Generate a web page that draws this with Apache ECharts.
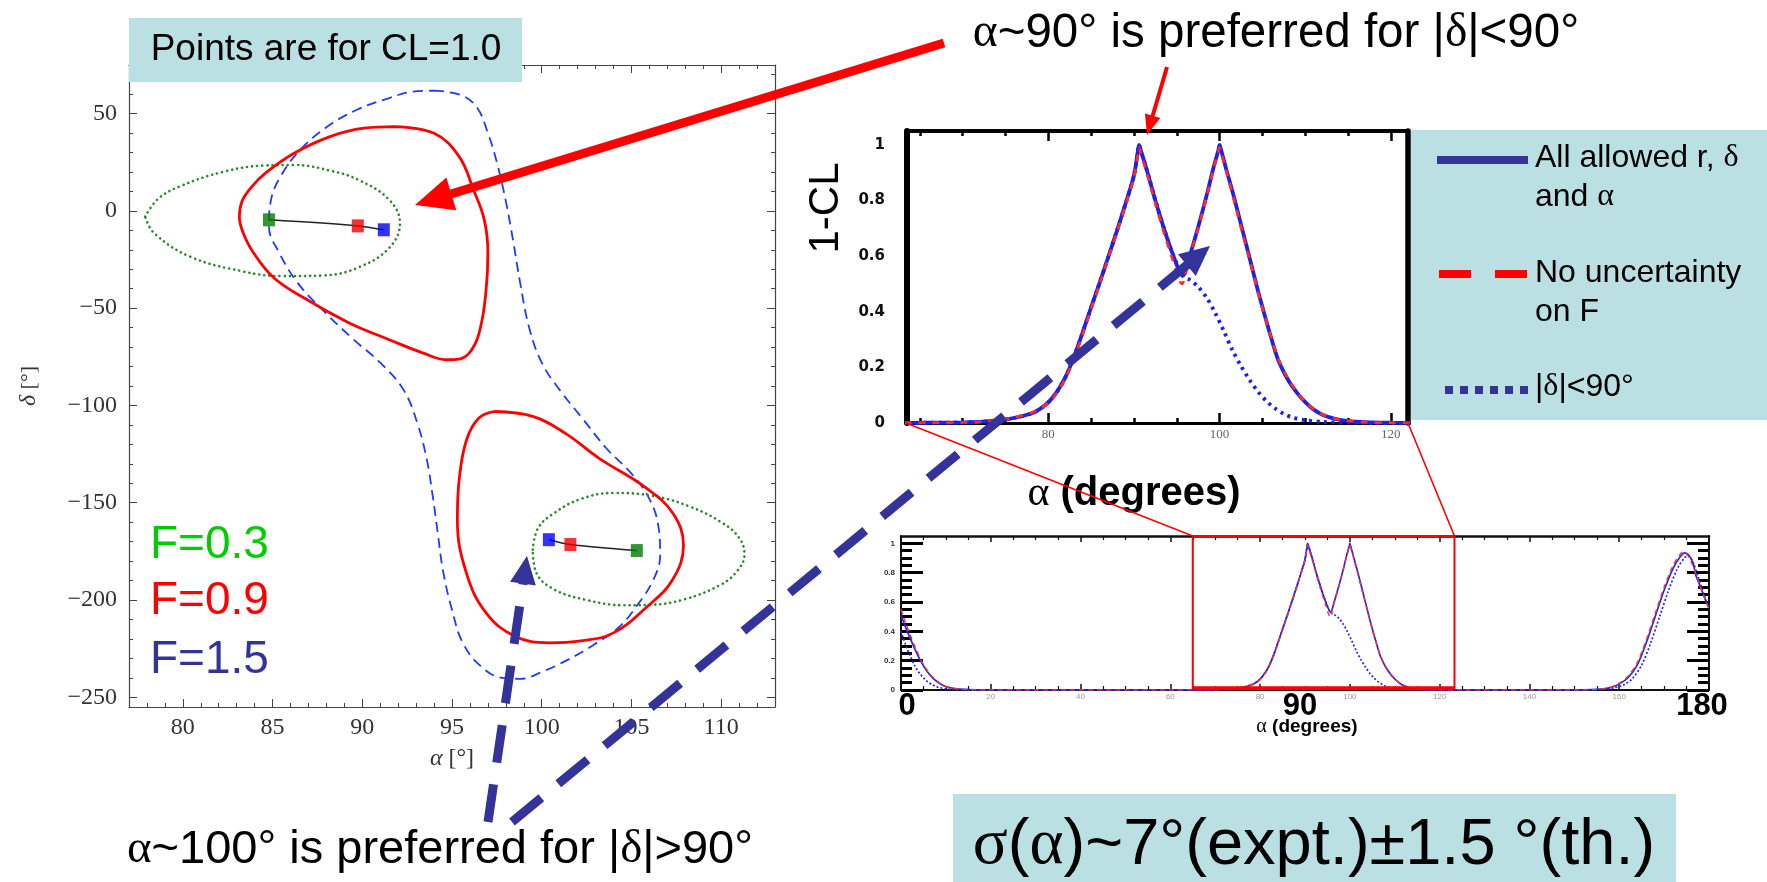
<!DOCTYPE html>
<html><head><meta charset="utf-8">
<script src="https://cdn.jsdelivr.net/npm/echarts@6/dist/echarts.min.js"></script>
<style>html,body{margin:0;padding:0;background:#fff}#c{width:1767px;height:882px}</style>
</head><body><div id="c"></div>
<script>
// ---------------- DATA ----------------
// Left panel: contours in (alpha [deg], delta [deg])
const RED_UPPER = [[91.8,43.3],[94.0,39.9],[95.4,27.9],[96.2,10.8],[96.8,-4.6],[97.0,-21.7],[96.9,-40.6],[96.6,-59.4],[96.1,-71.4],[95.4,-76.2],[94.7,-76.5],[93.4,-73.1],[91.5,-66.2],[89.3,-57.7],[87.1,-46.6],[85.1,-34.6],[83.9,-21],[83.35,-11],[83.15,-3],[83.3,5],[83.8,12],[84.6,19.4],[86.2,29.6],[88.2,38.2],[90.1,42.5],[91.8,43.3]];
const RED_LOWER = [[97.4,-103.1],[99.5,-105.6],[101.3,-114.2],[103.2,-127.2],[105.7,-141.6],[107.3,-155.3],[107.9,-172],[107.3,-189.5],[105.9,-203.2],[104.0,-216.9],[102.2,-221],[100.4,-222],[98.5,-218.6],[96.9,-206.6],[95.8,-186.1],[95.3,-158.7],[95.4,-138.1],[95.8,-118],[96.5,-106.5],[97.4,-103.1]];
const BLUE_CONTOUR = [[94.0,61.8],[95.5,59.5],[96.4,53],[97.0,40],[97.5,25],[98.0,5],[98.4,-15],[98.8,-37],[99.3,-60],[100.0,-78],[101.0,-92],[102.3,-107],[103.6,-122],[105.0,-135],[106.0,-148],[106.5,-162],[106.6,-177],[106.2,-190],[105.3,-203],[104.3,-214],[102.9,-223],[101.5,-230.5],[100.0,-237],[98.8,-240.5],[97.8,-240],[96.6,-234],[95.6,-222],[95.0,-205],[94.5,-185],[94.2,-165],[93.9,-145],[93.6,-128],[93.1,-110],[92.3,-92],[91.0,-78],[89.5,-66],[87.8,-51],[86.4,-37],[85.4,-22],[84.8,-8],[84.9,5],[85.4,17],[86.5,31],[88.0,43],[89.7,52],[91.5,58],[92.8,61.3],[94.0,61.8]];
const GREEN_UPPER = [[77.9,-2.9],[78.6,6],[79.8,12.5],[82.3,20.2],[84.5,23.3],[86.2,23.6],[88.3,20.5],[89.8,15.9],[91.5,5.7],[92.1,-6.3],[91.5,-19],[89.8,-29],[87.8,-33.2],[85.5,-33.5],[83.3,-31],[80.4,-23.5],[78.4,-11.4],[77.9,-2.9]];
const GREEN_LOWER = [[99.5,-174.1],[99.8,-163],[100.7,-155.3],[102.2,-148],[104.0,-145],[106.2,-146.5],[108.2,-151.8],[110.0,-160],[111.0,-168],[111.3,-176.7],[110.9,-185],[110.0,-192],[107.9,-199.8],[106.0,-202.5],[104.6,-202.7],[102.5,-200],[100.7,-194.6],[99.7,-186.1],[99.5,-174.1]];
// Points for CL = 1.0 (order: F=0.3, F=0.9, F=1.5)
const POINTS_UPPER = [[84.8,-4.6],[89.75,-7.7],[91.2,-9.7]];
const POINTS_LOWER = [[105.3,-174.6],[101.6,-171.5],[100.4,-169]];
const F_LABELS = ['F=0.3','F=0.9','F=1.5'];
const F_COLORS_POINTS = ['#007a00','#ee0000','#0000ff'];
const F_COLORS_TEXT = ['#00cc00','#ff0000','#333399'];

// Right panels: 1-CL vs alpha
const CL_ALL = [[0,0.51],[1,0.43],[2,0.355],[3,0.285],[4,0.22],[5,0.165],[6,0.12],[7,0.085],[8,0.058],[9,0.038],[10,0.024],[12,0.01],[14,0.004],[17,0.001],[20,0],[40,0],[60,0],[66,0.001],[70,0.002],[72,0.004],[74,0.009],[76,0.018],[78,0.034],[79,0.05],[80,0.074],[81,0.112],[82,0.165],[83,0.238],[84,0.325],[85,0.416],[86,0.505],[87,0.597],[88,0.69],[89,0.787],[90,0.89],[90.45,0.975],[90.6,1.0],[90.75,0.985],[91.5,0.91],[92.5,0.80],[93.5,0.70],[94.5,0.61],[95.7,0.53],[96.5,0.6],[97.5,0.705],[98.5,0.82],[99.3,0.92],[99.85,0.98],[100,1.0],[100.15,0.985],[100.8,0.91],[101.7,0.81],[102.7,0.69],[103.7,0.57],[104.7,0.45],[105.8,0.33],[106.8,0.23],[107.9,0.16],[109,0.11],[110,0.075],[111,0.048],[112,0.03],[113.5,0.015],[115,0.007],[117,0.003],[120,0.001],[125,0],[150,0],[154,0.002],[156,0.006],[158,0.016],[160,0.04],[162,0.085],[164,0.17],[166,0.32],[168,0.5],[170,0.68],[172,0.83],[173.5,0.905],[174.6,0.935],[175.5,0.92],[176.5,0.86],[177,0.79],[178,0.71],[179,0.63],[180,0.56]];
const CL_NO_UNC = [[0,0.55],[1,0.46],[2,0.38],[3,0.305],[4,0.235],[5,0.175],[6,0.127],[7,0.09],[8,0.061],[9,0.04],[10,0.025],[12,0.01],[14,0.004],[17,0.001],[20,0],[60,0],[66,0.001],[70,0.002],[72,0.004],[74,0.009],[76,0.02],[78,0.036],[79,0.051],[80,0.072],[81,0.108],[82,0.16],[83,0.232],[84,0.318],[85,0.41],[86,0.5],[87,0.592],[88,0.685],[89,0.782],[90,0.884],[90.45,0.965],[90.6,0.99],[90.75,0.975],[91.5,0.9],[92.5,0.79],[93.5,0.685],[94.5,0.59],[95.6,0.5],[96.4,0.585],[97.5,0.7],[98.5,0.815],[99.3,0.915],[99.85,0.975],[100,0.99],[100.15,0.975],[100.8,0.905],[101.7,0.8],[102.7,0.68],[103.7,0.565],[104.7,0.445],[105.8,0.33],[106.8,0.235],[107.9,0.165],[109,0.112],[110,0.076],[111,0.05],[112,0.031],[113.5,0.016],[115,0.008],[117,0.003],[120,0.001],[125,0],[150,0],[154,0.002],[156,0.007],[158,0.018],[160,0.045],[162,0.095],[164,0.185],[166,0.34],[168,0.52],[170,0.7],[172,0.85],[173.3,0.915],[174.2,0.94],[175.2,0.92],[176.5,0.84],[178,0.71],[179,0.63],[180,0.55]];
const CL_DELTA90 = [[0,0.40],[1,0.31],[2,0.235],[3,0.17],[4,0.12],[5,0.083],[6,0.055],[7,0.035],[8,0.021],[10,0.008],[12,0.002],[15,0],[60,0],[66,0.001],[70,0.002],[72,0.004],[74,0.009],[76,0.018],[78,0.034],[79,0.05],[80,0.074],[81,0.112],[82,0.165],[83,0.238],[84,0.325],[85,0.416],[86,0.505],[87,0.597],[88,0.69],[89,0.787],[90,0.89],[90.45,0.975],[90.6,1.0],[90.75,0.985],[91.5,0.91],[92.5,0.80],[93.5,0.70],[94.5,0.61],[95.7,0.53],[96.5,0.515],[97.5,0.49],[98.5,0.45],[99.5,0.395],[100.5,0.33],[101.5,0.262],[102.5,0.205],[103.5,0.155],[104.5,0.112],[105.5,0.078],[106.5,0.052],[107.5,0.033],[108.5,0.02],[110,0.01],[112,0.004],[115,0.001],[118,0],[150,0],[155,0.002],[157,0.006],[159,0.015],[161,0.035],[163,0.08],[165,0.17],[167,0.32],[169,0.5],[171,0.68],[173,0.83],[174.5,0.9],[175.3,0.915],[176.3,0.88],[177.5,0.78],[179,0.64],[180,0.56]];

// Axis ranges and ticks
const L_X_RANGE = [77, 113], L_Y_RANGE = [-255, 75];
const L_X_MAJOR = [80,85,90,95,100,105,110];
const L_X_MINOR = [78,79,81,82,83,84,86,87,88,89,91,92,93,94,96,97,98,99,101,102,103,104,106,107,108,109,111,112];
const L_Y_MAJOR = [-250,-200,-150,-100,-50,0,50];
const L_Y_MINOR = [-240,-230,-220,-210,-190,-180,-170,-160,-140,-130,-120,-110,-90,-80,-70,-60,-40,-30,-20,-10,10,20,30,40,60,70];
const U_X_RANGE = [63.5, 122], U_Y_RANGE = [0, 1.05];
const U_X_MAJOR = [80,100,120];
const U_X_MINOR = [65,70,75,85,90,95,105,110,115];
const U_Y_LABELS = [0,0.2,0.4,0.6,0.8,1];
const B_X_RANGE = [0, 180], B_Y_RANGE = [0, 1.05];
const B_Y_MAJOR = [0,0.2,0.4,0.6,0.8,1];
const B_Y_MINOR = [0.05,0.1,0.15,0.25,0.3,0.35,0.45,0.5,0.55,0.65,0.7,0.75,0.85,0.9,0.95];
const ZOOM_ALPHA = [65, 123.3], ZOOM_CL = [0.012, 1.05];

// ---------------- CHART ----------------
const SANS = "'Liberation Sans', Arial, sans-serif";
const SERIF = "'Liberation Serif', 'Times New Roman', serif";
const chart = echarts.init(document.getElementById('c'), null, {renderer:'canvas', width:1767, height:882});

function axis(gridIndex, position, range, cfg) {
  cfg = cfg || {};
  const a = {
    type:'value', gridIndex, position, min:range[0], max:range[1],
    axisLine:{show:!!cfg.line, onZero:false, lineStyle:cfg.line || {}},
    axisTick: cfg.ticks ? Object.assign({show:true, inside:true}, cfg.ticks) : {show:false},
    minorTick: cfg.minor ? Object.assign({show:true}, cfg.minor) : {show:false},
    axisLabel: cfg.labels ? Object.assign({show:true}, cfg.labels) : {show:false},
    splitLine:{show:false}, minorSplitLine:{show:false}, axisPointer:{show:false}
  };
  if (cfg.interval) a.interval = cfg.interval;
  if (cfg.name) { a.name = cfg.name; a.nameLocation = 'middle'; a.nameGap = cfg.nameGap; a.nameTextStyle = cfg.nameTextStyle; }
  return a;
}
const minus = v => String(v).replace('-', '\u2212');
const LFRAME = {color:'#444', width:1.2};
const LTICK = {color:'#444', width:1};
const nameRich = {fontFamily:SERIF, fontSize:24, color:'#333', rich:{i:{fontFamily:SERIF, fontStyle:'italic', fontSize:24, color:'#333'}}};

const xAxis = [
  // left panel
  axis(0,'bottom',L_X_RANGE,{line:LFRAME, ticks:{customValues:L_X_MAJOR, length:8, lineStyle:LTICK},
    labels:{customValues:L_X_MAJOR, fontFamily:SERIF, fontSize:24, color:'#333', margin:9},
    name:'{i|α} [°]', nameGap:40, nameTextStyle:nameRich}),
  axis(0,'bottom',L_X_RANGE,{ticks:{customValues:L_X_MINOR, length:4, lineStyle:LTICK}}),
  axis(0,'top',L_X_RANGE,{line:LFRAME, ticks:{customValues:L_X_MAJOR, length:8, lineStyle:LTICK}}),
  axis(0,'top',L_X_RANGE,{ticks:{customValues:L_X_MINOR, length:4, lineStyle:LTICK}}),
  // upper right panel
  axis(1,'bottom',U_X_RANGE,{line:{color:'#000', width:3}, ticks:{customValues:U_X_MAJOR, length:10, lineStyle:{color:'#000', width:2.5}},
    labels:{customValues:U_X_MAJOR, fontFamily:SERIF, fontSize:13, color:'#666', margin:5}}),
  axis(1,'bottom',U_X_RANGE,{ticks:{customValues:U_X_MINOR, length:5, lineStyle:{color:'#000', width:2.5}}}),
  axis(1,'top',U_X_RANGE,{line:{color:'#000', width:4}, ticks:{customValues:U_X_MAJOR, length:10, lineStyle:{color:'#000', width:2.5}}}),
  axis(1,'top',U_X_RANGE,{ticks:{customValues:U_X_MINOR, length:5, lineStyle:{color:'#000', width:2.5}}}),
  // lower right panel
  axis(2,'bottom',B_X_RANGE,{interval:20, line:{color:'#111', width:2}, ticks:{length:6, lineStyle:{color:'#111', width:1.5}},
    minor:{splitNumber:4, length:4, lineStyle:{color:'#111', width:1.2}},
    labels:{fontFamily:SANS, fontSize:8, color:'#999', margin:3, formatter: v => (v === 0 || v === 180) ? '' : String(v)}}),
  axis(2,'top',B_X_RANGE,{interval:20, line:{color:'#111', width:2.5}, ticks:{length:6, lineStyle:{color:'#111', width:1.5}},
    minor:{splitNumber:4, length:4, lineStyle:{color:'#111', width:1.2}}})
];
const yAxis = [
  // left panel
  axis(0,'left',L_Y_RANGE,{line:LFRAME, ticks:{customValues:L_Y_MAJOR, length:8, lineStyle:LTICK},
    labels:{customValues:L_Y_MAJOR, fontFamily:SERIF, fontSize:24, color:'#333', margin:12, formatter:minus},
    name:'{i|δ} [°]', nameGap:88, nameTextStyle:Object.assign({}, nameRich, {fontSize:22})}),
  axis(0,'left',L_Y_RANGE,{ticks:{customValues:L_Y_MINOR, length:4, lineStyle:LTICK}}),
  axis(0,'right',L_Y_RANGE,{line:LFRAME, ticks:{customValues:L_Y_MAJOR, length:8, lineStyle:LTICK}}),
  axis(0,'right',L_Y_RANGE,{ticks:{customValues:L_Y_MINOR, length:4, lineStyle:LTICK}}),
  // upper right panel
  axis(1,'left',U_Y_RANGE,{line:{color:'#000', width:6},
    labels:{customValues:U_Y_LABELS, fontFamily:"'DejaVu Sans', sans-serif", fontWeight:'bold', fontSize:15, color:'#111', margin:22}}),
  axis(1,'right',U_Y_RANGE,{line:{color:'#000', width:5.5}}),
  // lower right panel
  axis(2,'left',B_Y_RANGE,{line:{color:'#111', width:2}, ticks:{customValues:B_Y_MAJOR, length:22, lineStyle:{color:'#000', width:3}},
    labels:{customValues:B_Y_MAJOR, fontFamily:SANS, fontWeight:'bold', fontSize:8, color:'#333', margin:6}}),
  axis(2,'left',B_Y_RANGE,{ticks:{customValues:B_Y_MINOR, length:11, lineStyle:{color:'#000', width:3}}}),
  axis(2,'right',B_Y_RANGE,{line:{color:'#111', width:2}, ticks:{customValues:B_Y_MAJOR, length:22, lineStyle:{color:'#000', width:3}}}),
  axis(2,'right',B_Y_RANGE,{ticks:{customValues:B_Y_MINOR, length:11, lineStyle:{color:'#000', width:3}}})
];

function lineS(data, xi, yi, color, width, type, extra) {
  return Object.assign({type:'line', xAxisIndex:xi, yAxisIndex:yi, data, symbol:'none', showSymbol:false,
    smooth:false, silent:true, animation:false, lineStyle:{color, width, type, cap:'butt'}, z:3}, extra || {});
}
const SM = {smooth:0.4};
const CS = {smooth:0.3};
const GREEN_STYLE = {lineStyle:{color:'#2a8a2a', width:2.6, type:[0.1,5], cap:'round'}};
const series = [
  lineS(BLUE_CONTOUR,0,0,'#1b3cff',1.8,[10,6],SM),
  lineS(GREEN_UPPER,0,0,'#2a8a2a',2.6,'dotted',Object.assign({}, SM, GREEN_STYLE)),
  lineS(GREEN_LOWER,0,0,'#2a8a2a',2.6,'dotted',Object.assign({}, SM, GREEN_STYLE)),
  lineS(RED_UPPER,0,0,'#ff0000',2.8,'solid',SM),
  lineS(RED_LOWER,0,0,'#ff0000',2.8,'solid',SM),
  lineS(POINTS_UPPER,0,0,'#222',1.5,'solid',{smooth:0.3, z:4}),
  lineS(POINTS_LOWER,0,0,'#222',1.5,'solid',{smooth:0.3, z:4}),
  {type:'scatter', xAxisIndex:0, yAxisIndex:0, symbol:'rect', symbolSize:[12,13], silent:true, z:5,
    data: POINTS_UPPER.map((p,i) => ({value:p, itemStyle:{color:F_COLORS_POINTS[i]}}))},
  {type:'scatter', xAxisIndex:0, yAxisIndex:0, symbol:'rect', symbolSize:[12,13], silent:true, z:5,
    data: POINTS_LOWER.map((p,i) => ({value:p, itemStyle:{color:F_COLORS_POINTS[i]}}))},
  // upper right
  lineS(CL_ALL,4,4,'#1f22e6',3.8,'solid',CS),
  lineS(CL_DELTA90,4,4,'#1f22e6',3.8,[3,4.5],CS),
  lineS(CL_NO_UNC,4,4,'#ff2a2a',2.8,[7,7],Object.assign({z:4}, CS)),
  // lower right
  lineS(CL_ALL,8,6,'#2626dd',1.7,'solid',CS),
  lineS(CL_DELTA90,8,6,'#2626dd',1.7,[2,2],CS),
  lineS(CL_NO_UNC,8,6,'#ff3030',1.4,[5,4],Object.assign({z:4}, CS))
];

chart.setOption({
  animation:false,
  grid:[
    {left:129, top:65, width:646, height:642, outerBoundsMode:'none', containLabel:false},
    {left:907, top:131, width:501, height:292, outerBoundsMode:'none', containLabel:false},
    {left:901, top:536, width:808, height:154, outerBoundsMode:'none', containLabel:false}
  ],
  xAxis, yAxis, series
});

// ---------------- ANNOTATIONS ----------------
const G = [];
function rect(x,y,w,h,fill,z){ return {type:'rect', shape:{x,y,width:w,height:h}, style:{fill}, z:z||90, silent:true}; }
function txt(x,y,text,size,opt,z){
  const st = Object.assign({text, fontSize:size, fontFamily:SANS, fill:'#000', align:'center', verticalAlign:'middle',
    rich:{g:{fontFamily:SERIF, fontSize:size}}}, opt||{});
  return {type:'text', x, y, style:st, z:z||100, silent:true};
}
function seg(x1,y1,x2,y2,color,w,dash,z){
  return {type:'line', shape:{x1,y1,x2,y2}, style:{stroke:color, lineWidth:w, lineDash:dash||null, lineCap:'butt'}, z:z||100, silent:true};
}
function arrow(x1,y1,x2,y2,w,color,hl,hh,dash){
  const dx=x2-x1, dy=y2-y1, L=Math.hypot(dx,dy), ux=dx/L, uy=dy/L;
  const bx=x2-ux*hl, by=y2-uy*hl, px=-uy, py=ux;
  G.push(seg(x1,y1,bx+ux*2,by+uy*2,color,w,dash,101));
  G.push({type:'polygon', shape:{points:[[x2,y2],[bx+px*hh,by+py*hh],[bx-px*hh,by-py*hh]]}, style:{fill:color}, z:101, silent:true});
}

// Left panel annotations
G.push(rect(129,18,393,64,'#BBE0E3'));
G.push(txt(326,50,'Points are for CL=1.0',37));
F_LABELS.forEach((t,i) => G.push(txt(150,[545,601,660][i],t,46,{align:'left', fill:F_COLORS_TEXT[i]})));

// Top text + arrows
G.push(txt(1276,34,'{g|α}~90° is preferred for |{g|δ}|<90°',47.5,{rich:{g:{fontFamily:SERIF, fontSize:47.5}}}));
arrow(944,43,415,205,9,'#ff0000',38,17);
arrow(1167,67,1147,135,4,'#ff0000',20,8);

// Legend box
const LEG_FONT = 32;
const legRich = {rich:{g:{fontFamily:SERIF, fontSize:LEG_FONT}}, align:'left'};
G.push(rect(1411,130,356,290,'#BBE0E3'));
G.push(seg(1437,160,1528,160,'#333399',8));
G.push(txt(1535,158,'All allowed r, {g|δ}',LEG_FONT,legRich));
G.push(txt(1535,197,'and {g|α}',LEG_FONT,legRich));
G.push(seg(1439,274,1527,274,'#ff0000',8,[32,24]));
G.push(txt(1535,273,'No uncertainty',LEG_FONT,legRich));
G.push(txt(1535,312,'on F',LEG_FONT,legRich));
G.push(seg(1445,390,1528,390,'#333399',8,[8,7]));
G.push(txt(1535,387,'|{g|δ}|<90°',LEG_FONT,legRich));

// Upper-right titles
const clTitle = txt(826,208,'1-CL',42);
clTitle.rotation = Math.PI/2;
G.push(clTitle);
G.push(txt(1134,494,'{g|α} (degrees)',40,{fontWeight:'bold', rich:{g:{fontFamily:SERIF, fontSize:42, fontWeight:'normal'}}}));

// Zoom box + connectors (from axis coordinates)
const bTL = chart.convertToPixel({xAxisIndex:8, yAxisIndex:6}, [ZOOM_ALPHA[0], ZOOM_CL[1]]);
const bBR = chart.convertToPixel({xAxisIndex:8, yAxisIndex:6}, [ZOOM_ALPHA[1], ZOOM_CL[0]]);
const uBL = chart.convertToPixel({xAxisIndex:4, yAxisIndex:4}, [U_X_RANGE[0], U_Y_RANGE[0]]);
const uBR = chart.convertToPixel({xAxisIndex:4, yAxisIndex:4}, [U_X_RANGE[1], U_Y_RANGE[0]]);
G.push({type:'rect', shape:{x:bTL[0], y:bTL[1], width:bBR[0]-bTL[0], height:bBR[1]-bTL[1]}, style:{fill:null, stroke:'#ff0000', lineWidth:2}, z:102, silent:true});
G.push(seg(bTL[0],bBR[1],bBR[0],bBR[1],'#ff0000',4,null,102));
G.push(seg(uBL[0]-1,uBL[1],bTL[0],bTL[1],'#ff0000',1.6,null,102));
G.push(seg(uBR[0],uBR[1],bBR[0],bTL[1],'#ff0000',1.6,null,102));

// Lower-right labels
G.push(txt(1307,727,'{g|α} (degrees)',19,{fontWeight:'bold', rich:{g:{fontFamily:SERIF, fontSize:20, fontWeight:'normal'}}}));
G.push(txt(907,706,'0',31,{fontWeight:'bold'}));
G.push(txt(1300,706,'90',31,{fontWeight:'bold'}));
G.push(txt(1702,706,'180',31,{fontWeight:'bold'}));

// Bottom texts
G.push(txt(440,850,'{g|α}~100° is preferred for |{g|δ}|>90°',47,{rich:{g:{fontFamily:SERIF, fontSize:47}}}));
G.push(rect(953,794,723,88,'#BBE0E3'));
G.push(txt(1314,846,'{g|σ}({g|α})~7°(expt.)±1.5 °(th.)',65,{rich:{g:{fontFamily:SERIF, fontSize:65}}}));

// Blue dashed arrows
arrow(488,822,527,556,9,'#333399',28,13,[38,22]);
arrow(512,822,1210,246,9,'#333399',30,14,[38,22]);

chart.setOption({graphic:{elements:G}});
</script></body></html>
